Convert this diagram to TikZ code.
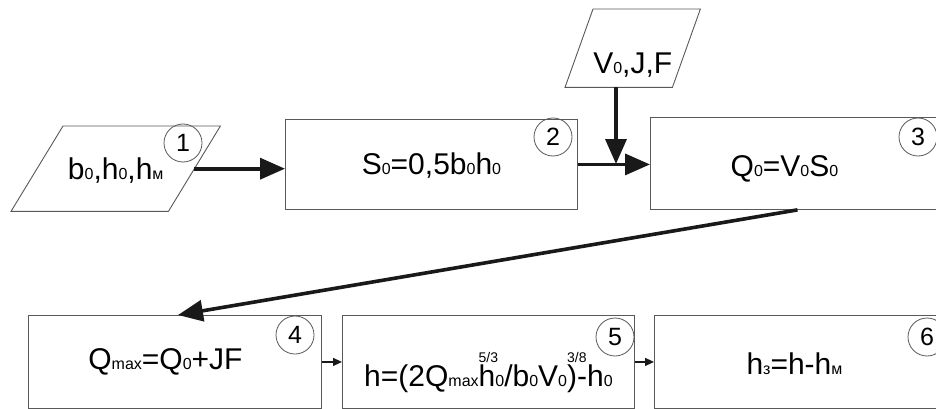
\documentclass[tikz,border=0pt]{standalone}
\usepackage{fontspec}
\setmainfont{Liberation Sans}
\usetikzlibrary{arrows.meta,calc}
\newcommand{\sbs}[1]{\raisebox{-0.5pt}{\fontsize{16}{16}\selectfont #1}}
\newcommand{\sps}[1]{\makebox[0pt][l]{\raisebox{24pt}{\fontsize{14}{14}\selectfont #1}}}
\begin{document}
\begin{tikzpicture}[x=1pt,y=-1pt,
  boxline/.style={draw=black!65,line width=0.9pt},
  box/.style={boxline,inner sep=0pt,font=\fontsize{30}{36}\selectfont,anchor=north west},
  para/.style={inner sep=0pt,font=\fontsize{30}{36}\selectfont,anchor=north west},
  num/.style={circle,draw=black!65,line width=0.8pt,inner sep=0pt,minimum size=38pt,font=\fontsize{25}{25}\selectfont},
  big/.style={line width=3.6pt,-{Triangle[length=25pt,width=21pt]},draw=black!90,fill=black!90},
  small/.style={line width=1.4pt,-{Triangle[length=9pt,width=8pt]},draw=black!90,fill=black!90}]
\useasboundingbox (0,0) rectangle (936,409);
\clip (0,0) rectangle (936,409);
\fill[white] (0,0) rectangle (936,409);
% input parallelograms
\node[para,minimum width=157pt,text height=53pt,text depth=32pt] (p1) at (37,126) {b\sbs{0},h\sbs{0},h\sbs{м}};
\draw[boxline] ($(p1.north west)+(26,0)$) -- ($(p1.north east)+(26,0)$) -- ($(p1.south east)+(-26,0)$) -- ($(p1.south west)+(-26,0)$) -- cycle;
\node[para,minimum width=107pt,text height=64pt,text depth=14pt] (p2) at (579,9) {V\sbs{0},J,F};
\draw[boxline] ($(p2.north west)+(14,0)$) -- ($(p2.north east)+(14,0)$) -- ($(p2.south east)+(-14,0)$) -- ($(p2.south west)+(-14,0)$) -- cycle;
% process boxes
\node[box,minimum width=292pt,text height=55pt,text depth=35pt] (b2) at (285,119) {S\sbs{0}=0,5b\sbs{0}h\sbs{0}};
\node[box,minimum width=300pt,text height=59pt,text depth=33pt] (b3) at (650,117) {\kern-32pt Q\sbs{0}=V\sbs{0}S\sbs{0}};
\node[box,minimum width=293pt,text height=54pt,text depth=39pt] (b4) at (28,315) {\kern-19pt Q\sbs{max}=Q\sbs{0}+JF};
\node[box,minimum width=292pt,text height=71pt,text depth=22pt] (b5) at (342,315) {h=(2Q\sbs{max}\sps{5/3}h\sbs{0}/b\sbs{0}V\sbs{0}\sps{3/8})-h\sbs{0}};
\node[box,minimum width=306pt,text height=59pt,text depth=34pt] (b6) at (654,315) {\kern-26pt h\sbs{з}=h-h\sbs{м}};
% numbers
\node[num] (c1) at (183,143) {1};
\node[num] (c2) at (553,137) {2};
\node[num] (c3) at (918,137) {3};
\node[num] (c4) at (295,335) {4};
\node[num] (c5) at (615,337) {5};
\node[num] (c6) at (927,337) {6};
% connectors
\coordinate (j) at (616,164);
\draw[big] (p1.east) -- (p1.east -| b2.west);
\draw[big] (b2.east) -- (b2.east -| b3.west);
\draw[big] (p2.south -| j) -- (j);
\draw[big] ($(b3.south)+(-3,0)$) -- ($(b4.north)+(3,0)$);
\draw[small] (b4.east) -- (b5.west);
\draw[small] (b5.east) -- (b6.west);
\end{tikzpicture}
\end{document}
